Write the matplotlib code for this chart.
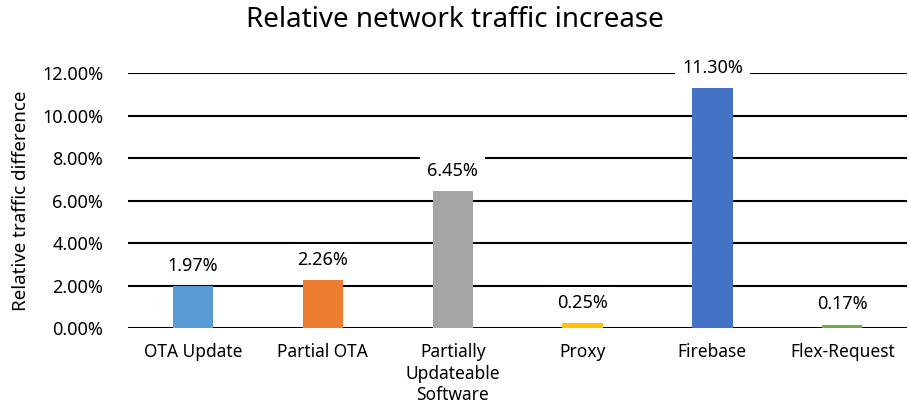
import matplotlib.pyplot as plt
from matplotlib.ticker import FuncFormatter

categories = ["OTA Update", "Partial OTA", "Partially\nUpdateable\nSoftware",
              "Proxy", "Firebase", "Flex-Request"]
values = [1.97, 2.26, 6.45, 0.25, 11.30, 0.17]
colors = ["#5B9BD5", "#ED7D31", "#A5A5A5", "#FFC000", "#4472C4", "#70AD47"]
yticks = [0, 2, 4, 6, 8, 10, 12]

plt.rcParams['font.family'] = ['Noto Sans', 'DejaVu Sans']

fig = plt.figure(figsize=(9.09, 4.18), dpi=100)
ax = fig.add_axes([0.141, 0.215, 0.857, 0.61])

x = range(len(categories))
ax.bar(x, values, width=0.31, color=colors, zorder=3)

ax.set_xlim(-0.5, len(categories) - 0.5)
ax.set_ylim(0, 12)
ax.set_yticks(yticks)
ax.yaxis.set_major_formatter(FuncFormatter(lambda v, p: f"{v:.2f}%"))
ax.set_xticks(list(x))
ax.set_xticklabels(categories, fontsize=12.5, linespacing=1.25)
ax.tick_params(axis='y', labelsize=13, length=0, pad=18)
ax.tick_params(axis='x', length=0, pad=11)
ax.grid(axis='y', color='black', linewidth=1.5, zorder=0)
for s in ax.spines.values():
    s.set_visible(False)

for i, v in enumerate(values):
    ax.annotate(f"{v:.2f}%", (i, v), xytext=(0, 8), textcoords='offset points',
                ha='center', va='bottom', fontsize=13, zorder=5,
                bbox=dict(facecolor='white', edgecolor='none', pad=5))

ax.set_ylabel("Relative traffic difference", fontsize=13.5, labelpad=9)
fig.suptitle("Relative network traffic increase", fontsize=20, y=0.985)

fig.savefig("out.png", dpi=100)
